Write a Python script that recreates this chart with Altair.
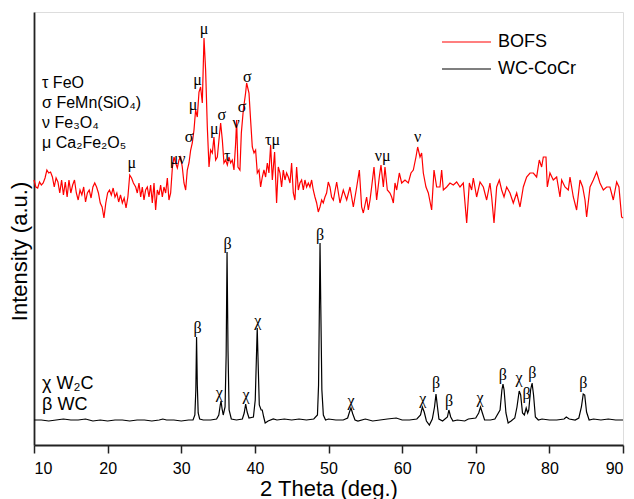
import altair as alt
import pandas as pd

# ---------------- data (2-theta in degrees, intensity in arbitrary units) ----------------
red_x = [10.0, 10.25, 10.5, 10.75, 11.0, 11.25, 11.5, 11.75, 12.0, 12.25, 12.5, 12.75, 13.0, 13.25,
         13.5, 13.75, 14.0, 14.25, 14.5, 14.75, 15.0, 15.25, 15.5, 15.75, 16.0, 16.25, 16.5, 16.75,
         17.0, 17.25, 17.5, 17.75, 18.0, 18.25, 18.5, 18.75, 19.0, 19.25, 19.5, 19.75, 20.0, 20.25,
         20.5, 20.75, 21.0, 21.25, 21.5, 21.75, 22.0, 22.25, 22.5, 22.75, 23.0, 23.25, 23.5,
         23.81, 24.03, 24.26, 24.49, 24.71, 24.94, 25.16, 25.39, 25.62, 25.84, 26.07, 26.30, 26.52,
         26.75, 26.98, 27.20, 27.43, 27.65, 27.88, 28.11, 28.33, 28.56, 28.79, 29.01, 29.24, 29.47,
         29.69, 29.92, 30.14, 30.37, 30.60, 30.82, 31.05, 31.28, 31.50, 31.73, 31.95, 32.18, 32.41,
         32.63, 32.86, 33.09, 33.31, 33.54, 33.77, 33.99, 34.22, 34.44, 34.67, 34.90, 35.12, 35.35,
         35.58, 35.80, 36.03, 36.26, 36.48, 36.71, 36.93, 37.16, 37.39, 37.52, 37.70, 37.97, 38.16,
         38.43, 38.74, 38.88, 39.20, 39.42, 39.65, 39.88, 40.10, 40.33, 40.56, 40.78, 41.01, 41.23,
         41.46, 41.69, 41.91, 42.14, 42.37, 42.68, 42.95, 43.18, 43.41, 43.63, 43.86, 44.09, 44.31,
         44.54, 44.77, 44.99, 45.22, 45.44, 45.67, 45.90, 46.12, 46.35, 46.58, 46.80, 47.03, 47.26,
         47.48, 47.71, 47.93, 48.16, 48.39, 48.61, 48.84, 49.07, 49.29, 49.52, 49.74, 49.97, 50.20,
         50.42, 50.66, 51.11, 51.56, 52.01, 52.47, 52.92, 53.37, 53.83, 54.19, 54.50, 54.73, 55.18,
         55.41, 55.64, 55.86, 56.18, 56.54, 56.90, 57.13, 57.45, 57.67, 57.99, 58.35, 58.58, 58.81,
         59.03, 59.26, 59.62, 59.94, 60.39, 60.84, 61.20, 61.52, 61.88, 62.11, 62.43, 62.65, 62.88,
         63.24, 63.56, 64.01, 64.33, 64.69, 65.14, 65.37, 65.60, 66.05, 66.50, 66.95, 67.41, 67.86,
         68.31, 68.77, 69.13, 69.44, 69.67, 70.12, 70.58, 71.03, 71.48, 71.93, 72.16, 72.48, 72.84,
         73.20, 73.52, 73.84, 74.20, 74.65, 75.10, 75.56, 76.01, 76.46, 76.91, 77.37, 77.82, 78.27,
         78.63, 78.95, 79.18, 79.54, 79.72, 80.08, 80.53, 80.99, 81.44, 81.67, 82.12, 82.57, 82.80,
         83.25, 83.70, 84.16, 84.52, 84.84, 85.06, 85.52, 85.97, 86.42, 86.87, 87.33, 87.78, 88.23,
         88.68, 89.14, 89.45, 89.81, 90.0]
red_y = [265, 258, 257, 263, 260, 262, 267, 275, 272, 273, 268, 258, 267, 263,
         252, 265, 250, 263, 248, 265, 252, 260, 265, 252, 245, 255, 250, 258,
         243, 252, 255, 247, 258, 262, 258, 252, 242, 238, 227, 242, 252, 255,
         250, 257, 248, 252, 243, 250, 242, 247, 237, 248, 270, 267, 262,
         258, 252, 262, 248, 258, 245, 255, 258, 248, 260, 242, 262, 235,
         255, 250, 260, 248, 258, 252, 267, 245, 252, 277, 288, 282, 277,
         285, 288, 278, 262, 255, 275, 282, 295, 302, 315, 335, 328, 353,
         358, 342, 407, 375, 318, 278, 295, 292, 308, 285, 288, 305, 322,
         305, 282, 285, 280, 288, 282, 285, 275, 302, 325, 278, 275, 312,
         335, 352, 362, 352, 325, 298, 292, 295, 272, 275, 258, 268, 275,
         268, 282, 272, 300, 265, 293, 242, 278, 272, 258, 275, 265, 272,
         268, 262, 282, 252, 245, 278, 255, 262, 265, 255, 265, 258, 262,
         258, 265, 255, 248, 242, 233, 238, 245, 242, 248, 252, 263, 258,
         248, 245, 263, 242, 255, 245, 258, 238, 258, 275, 238, 232, 248,
         235, 245, 258, 278, 245, 268, 280, 258, 278, 255, 252, 248, 242,
         262, 255, 272, 262, 265, 262, 272, 275, 288, 298, 288, 292, 272,
         258, 252, 235, 275, 258, 258, 275, 255, 258, 262, 260, 263, 258,
         262, 222, 262, 255, 267, 248, 263, 258, 245, 262, 248, 222, 258,
         265, 255, 248, 258, 252, 242, 252, 238, 258, 268, 272, 272, 268,
         285, 278, 288, 288, 258, 272, 265, 268, 248, 265, 258, 255, 268,
         248, 235, 265, 258, 245, 228, 258, 265, 273, 262, 255, 258, 258,
         245, 263, 258, 228, 227]

black_x = [10.0, 11.0, 12.0, 13.0, 14.0, 15.0, 16.0, 17.0, 17.5, 18.0, 19.0, 20.0, 21.0, 22.0,
           23.0, 24.0, 25.0, 26.0, 27.0, 27.5, 28.0, 29.0, 30.0, 31.0, 31.6,
           31.85, 31.98, 32.08, 32.18, 32.3, 32.5, 33.0, 34.0, 34.8,
           35.1, 35.3, 35.4, 35.55, 35.7, 35.95, 36.1, 36.22, 36.35, 36.5, 36.8, 37.5, 38.3,
           38.55, 38.75, 38.95, 39.2, 39.8, 40.05, 40.2, 40.32, 40.45, 40.6, 40.85, 41.0, 41.2,
           41.4, 41.8, 42.5, 43.0, 44.0, 45.0, 46.0, 47.0, 48.0, 48.5,
           48.65, 48.78, 48.85, 48.95, 49.1, 49.3, 49.6, 50.0, 51.0, 52.0, 52.6,
           52.85, 53.05, 53.3, 53.6, 54.0, 55.0, 56.0, 57.0, 58.0, 59.2, 60.0, 61.0, 62.0,
           62.5, 62.75, 63.0, 63.3, 63.7, 64.1, 64.4, 64.6, 64.8, 65.0, 65.5,
           66.15, 66.35, 66.6, 66.9, 67.5, 68.5, 69.0, 70.0,
           70.4, 70.65, 70.9, 71.2, 72.0, 72.6, 73.3, 73.55, 73.7, 73.85, 74.1, 74.4, 74.8, 75.3,
           75.6, 75.9, 76.1, 76.35, 76.6, 76.85, 77.05, 77.2, 77.45, 77.65, 77.85, 78.1, 78.5,
           79.0, 80.0, 81.0, 82.0, 82.3, 82.7, 83.5, 84.0,
           84.35, 84.6, 84.8, 85.05, 85.4, 86.0, 87.0, 88.0, 89.0, 90.0]
black_y = [25, 25, 24, 25, 26, 25, 25, 26, 25, 24, 25, 24, 25, 25,
           24, 25, 25, 24, 25, 26, 25, 25, 24, 25, 25,
           30, 55, 108, 60, 32, 26, 25, 25, 26,
           30, 40, 44, 36, 30, 38, 90, 193, 95, 35, 26, 25, 26,
           32, 41, 33, 27, 28, 45, 85, 117, 80, 40, 35, 35, 28,
           22, 24, 26, 25, 26, 25, 26, 25, 26, 30,
           60, 150, 202, 140, 55, 30, 25, 26, 25, 25, 27,
           33, 37, 31, 25, 24, 26, 24, 25, 26, 27, 25, 25, 26,
           30, 38, 33, 24, 20, 26, 38, 51, 38, 26, 24,
           28, 35, 28, 24, 25, 24, 26, 27,
           32, 38, 32, 25, 25, 26, 35, 55, 61, 55, 32, 22, 24, 27,
           38, 54, 50, 32, 30, 37, 32, 35, 55, 62, 50, 28, 25,
           26, 25, 25, 26, 28, 26, 25, 27,
           38, 51, 50, 33, 25, 26, 25, 26, 25, 25]

# peak labels
red_lab_x = [23.27, 29.5, 31.05, 31.6, 32.2, 33.1, 34.5, 35.5, 36.26, 37.45, 38.25, 38.97, 42.4, 57.35, 62.1]
red_lab_y = [282, 286, 308, 340, 365, 416, 316, 330, 289, 322, 338, 368, 305, 289, 308]
red_lab_t = ["μ", "μν", "σ", "μ", "μ", "μ", "μ", "σ", "τ", "ν", "σ", "σ", "τμ", "νμ", "ν"]

black_lab_x = [32.23, 35.17, 36.3, 38.8, 40.38, 48.85, 53.05, 62.8, 64.6, 66.37, 70.6, 73.66, 75.87, 76.9, 77.68, 84.6]
black_lab_y = [117, 52, 201, 50, 124, 210, 44, 46, 62, 44, 47, 70, 67, 51, 72, 62]
black_lab_t = ["β", "χ", "β", "χ", "χ", "β", "χ", "χ", "β", "β", "χ", "β", "χ", "β", "β", "β"]

# phase keys
key_x = [11.1, 11.1, 11.1, 11.1, 11.1, 11.1]
key_y = [362, 342, 322, 302, 61, 40]
key_t = ["τ FeO", "σ FeMn(SiO₄)", "ν Fe₃O₄", "μ Ca₂Fe₂O₅", "χ W₂C", "β WC"]
key_size = [16, 16, 16, 16, 18, 18]

series = ["BOFS", "WC-CoCr"]
colors = ["#ff0000", "#000000"]

# ---------------- build ----------------
df = pd.concat([
    pd.DataFrame({"theta": red_x, "intensity": red_y, "sample": series[0]}),
    pd.DataFrame({"theta": black_x, "intensity": black_y, "sample": series[1]}),
])
labels = pd.DataFrame({"theta": red_lab_x + black_lab_x,
                       "intensity": red_lab_y + black_lab_y,
                       "txt": red_lab_t + black_lab_t})
keys = pd.DataFrame({"theta": key_x, "intensity": key_y, "txt": key_t, "fs": key_size})

x_scale = alt.Scale(domain=[10, 90], nice=False, zero=False)
y_scale = alt.Scale(domain=[0, 433], nice=False, zero=False)

x_axis = alt.Axis(
    title="2 Theta (deg.)",
    values=[10, 15, 20, 25, 30, 35, 40, 45, 50, 55, 60, 65, 70, 75, 80, 85, 90],
    labelExpr="datum.value % 10 === 0 ? datum.label : ''",
    labelOverlap=False,
    tickSize=alt.condition("datum.value % 10 === 0", alt.value(8), alt.value(5)),
    tickWidth=1.5, tickColor="#222", domainColor="#222", domainWidth=1.8,
    labelFont="Liberation Sans", labelFontSize=16, labelColor="#000", labelPadding=7,
    titleFont="Liberation Sans", titleFontSize=22, titleFontWeight="normal", titleColor="#000",
    titlePadding=2, grid=False,
)
y_axis = alt.Axis(
    title="Intensity (a.u.)", labels=False, ticks=False, grid=False,
    domainColor="#222", domainWidth=1.8,
    titleFont="Liberation Sans", titleFontSize=22, titleFontWeight="normal", titleColor="#000",
    titleX=-15, titleY=239, titleAngle=270, titleAlign="center", titleBaseline="middle",
)

lines = alt.Chart(df).mark_line(strokeWidth=1.2).encode(
    x=alt.X("theta:Q", scale=x_scale, axis=x_axis),
    y=alt.Y("intensity:Q", scale=y_scale, axis=y_axis),
    color=alt.Color("sample:N",
                    scale=alt.Scale(domain=series, range=colors),
                    legend=alt.Legend(orient="none", legendX=407, legendY=20, title=None,
                                      symbolType="stroke", symbolSize=2400, symbolStrokeWidth=1.2,
                                      clipHeight=20, rowPadding=7,
                                      labelFont="Liberation Sans", labelFontSize=18,
                                      labelColor="#000", labelOffset=6)),
)

peak_text = alt.Chart(labels).mark_text(font="Liberation Serif", fontSize=16, color="#000",
                                        baseline="middle", align="center").encode(
    x=alt.X("theta:Q", scale=x_scale), y=alt.Y("intensity:Q", scale=y_scale), text="txt:N")

key_text = alt.Chart(keys).mark_text(font="Liberation Sans", color="#000",
                                     baseline="middle", align="left").encode(
    x=alt.X("theta:Q", scale=x_scale), y=alt.Y("intensity:Q", scale=y_scale), text="txt:N",
    size=alt.Size("fs:Q", scale=None, legend=None))

chart = alt.layer(lines, peak_text, key_text).properties(
    width=589, height=433,
    autosize=alt.AutoSizeParams(type="none"),
    padding={"left": 26, "top": 4, "right": 3, "bottom": 56},
).configure_view(stroke=None).configure(background="white")

chart.save("out.html", embed_options={"renderer": "svg", "actions": False})
